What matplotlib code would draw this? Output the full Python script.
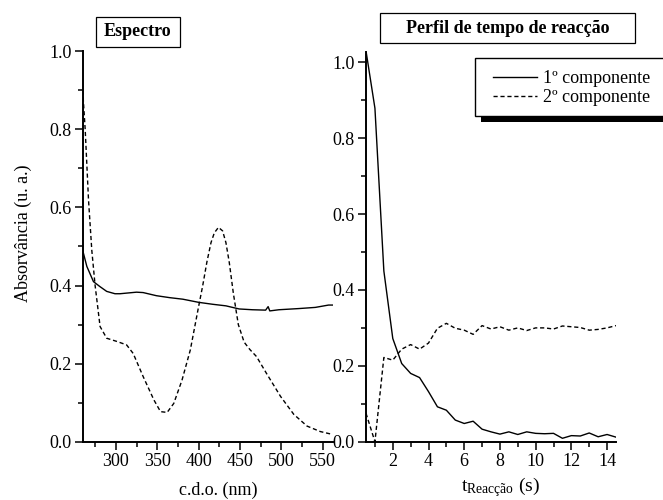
import matplotlib
matplotlib.use('Agg')
import matplotlib.pyplot as plt
from matplotlib.ticker import MultipleLocator
from matplotlib.patches import Rectangle

plt.rcParams['font.family'] = ['Liberation Serif', 'DejaVu Serif']
plt.rcParams['mathtext.fontset'] = 'custom'
plt.rcParams['mathtext.rm'] = 'Liberation Serif'
plt.rcParams['mathtext.it'] = 'Liberation Serif:italic'

# espectro (c.d.o. em nm)
wl_1 = [260, 265, 273, 281, 289, 299, 305, 325, 333, 349, 365, 381, 400, 417, 433,
        449, 465, 481, 484, 486, 497, 521, 541, 557, 562]
abs_1 = [0.49, 0.449, 0.41, 0.397, 0.385, 0.379, 0.379, 0.383, 0.382, 0.374, 0.369,
         0.365, 0.357, 0.352, 0.348, 0.34, 0.338, 0.337, 0.346, 0.335, 0.338, 0.341,
         0.344, 0.35, 0.35]

wl_2 = [260, 263, 267, 271, 275, 281, 289, 301, 313, 321, 333, 346, 354, 362, 370,
        380, 390, 400, 405, 410, 415, 419, 424, 429, 433, 437, 442, 448, 455, 462,
        470, 482, 499, 515, 531, 547, 559, 562]
abs_2 = [0.90, 0.80, 0.62, 0.49, 0.40, 0.295, 0.265, 0.257, 0.248, 0.226, 0.167,
         0.107, 0.077, 0.075, 0.098, 0.158, 0.235, 0.346, 0.40, 0.46, 0.51, 0.535,
         0.549, 0.54, 0.51, 0.46, 0.38, 0.30, 0.255, 0.236, 0.218, 0.175, 0.116,
         0.07, 0.04, 0.026, 0.02, 0.018]

# perfil de tempo
t = [0.5, 1.0, 1.5, 2.0, 2.5, 3.0, 3.5, 4.0, 4.5, 5.0, 5.5, 6.0, 6.5, 7.0, 7.5,
     8.0, 8.5, 9.0, 9.5, 10.0, 10.5, 11.0, 11.5, 12.0, 12.5, 13.0, 13.5, 14.0, 14.5]
comp_1 = [1.03, 0.879, 0.45, 0.272, 0.206, 0.18, 0.169, 0.132, 0.092, 0.083, 0.057,
          0.048, 0.054, 0.033, 0.026, 0.02, 0.026, 0.019, 0.026, 0.022, 0.021, 0.022,
          0.009, 0.016, 0.015, 0.023, 0.013, 0.019, 0.012]
comp_2 = [0.075, 0.0, 0.222, 0.215, 0.244, 0.256, 0.244, 0.26, 0.299, 0.312, 0.299,
          0.294, 0.283, 0.306, 0.297, 0.303, 0.294, 0.3, 0.293, 0.3, 0.3, 0.297,
          0.305, 0.303, 0.301, 0.294, 0.296, 0.3, 0.306]

dash = (0, (3, 2))
W, H = 663, 500

fig = plt.figure(figsize=(6.63, 5.0), dpi=100)
ax1 = fig.add_axes([82.7 / W, 58.3 / H, 250 / W, 390.4 / H])
ax2 = fig.add_axes([366 / W, 58.3 / H, 250 / W, 390 / H])

for ax in (ax1, ax2):
    for s in ('top', 'right'):
        ax.spines[s].set_visible(False)
    for s in ('left', 'bottom'):
        ax.spines[s].set_linewidth(1.4)
    ax.tick_params(which='major', direction='out', length=5.5, width=1.1, labelsize=13, pad=2.5)
    ax.tick_params(which='minor', direction='out', length=3.5, width=1.1)

ax1.plot(wl_1, abs_1, color='black', lw=1.0)
ax1.plot(wl_2, abs_2, color='black', lw=1.0, linestyle=dash)
ax1.set_xlim(260, 562)
ax1.set_ylim(0, 1.0)
ax1.set_xticks([300, 350, 400, 450, 500, 550])
ax1.xaxis.set_minor_locator(MultipleLocator(25))
ax1.yaxis.set_major_locator(MultipleLocator(0.2))
ax1.yaxis.set_minor_locator(MultipleLocator(0.1))
ax1.set_xlabel('c.d.o. (nm)', fontsize=13)
ax1.set_ylabel('Absorvância (u. a.)', fontsize=13)
ax1.xaxis.set_label_coords((218 - 82.7) / 250, (441.7 - 482) / 390.4)
ax1.yaxis.set_label_coords((32 - 82.7) / 250, (441.7 - 233) / 390.4)

l1, = ax2.plot(t, comp_1, color='black', lw=1.0, label='1º componente')
l2, = ax2.plot(t, comp_2, color='black', lw=1.0, linestyle=dash, label='2º componente')
ax2.set_xlim(0.5, 14.5)
ax2.set_ylim(0, 1.028)
ax2.set_xticks([2, 4, 6, 8, 10, 12, 14])
ax2.xaxis.set_minor_locator(MultipleLocator(1))
ax2.set_yticks([0.0, 0.2, 0.4, 0.6, 0.8, 1.0])
ax2.yaxis.set_minor_locator(MultipleLocator(0.1))
ax2.set_xlabel('t$_{\\mathrm{Reacção}}$ (s)', fontsize=14)
ax2.xaxis.set_label_coords((500 - 366) / 250, (441.7 - 475) / 390)

# legend box with solid black shadow, running past the right edge
fig.patches.append(Rectangle((481 / W, 1 - 122 / H), 200 / W, 58 / H, transform=fig.transFigure,
                             facecolor='black', edgecolor='black', lw=0, zorder=2))
fig.patches.append(Rectangle((475 / W, 1 - 116 / H), 200 / W, 58 / H, transform=fig.transFigure,
                             facecolor='white', edgecolor='black', lw=1.0, zorder=3))
leg = fig.legend(handles=[l1, l2], loc='upper left', bbox_to_anchor=(486 / W, 1 - 63 / H),
                 bbox_transform=fig.transFigure, fontsize=13, frameon=False,
                 handlelength=2.45, handletextpad=0.3, borderpad=0.4,
                 labelspacing=0.12, borderaxespad=0)
leg.set_zorder(6)

# title boxes
fig.patches.append(Rectangle((96 / W, 1 - 47 / H), 84 / W, 30 / H, transform=fig.transFigure,
                             facecolor='white', edgecolor='black', lw=0.9))
fig.patches.append(Rectangle((380 / W, 1 - 43.3 / H), 255 / W, 30 / H, transform=fig.transFigure,
                             facecolor='white', edgecolor='black', lw=0.9))
fig.text(137.5 / W, 1 - 32 / H, 'Espectro', fontsize=13, fontweight='bold',
         ha='center', va='center')
fig.text(507.5 / W, 1 - 28.5 / H, 'Perfil de tempo de reacção', fontsize=13, fontweight='bold',
         ha='center', va='center')

fig.savefig('out.png', dpi=100)
